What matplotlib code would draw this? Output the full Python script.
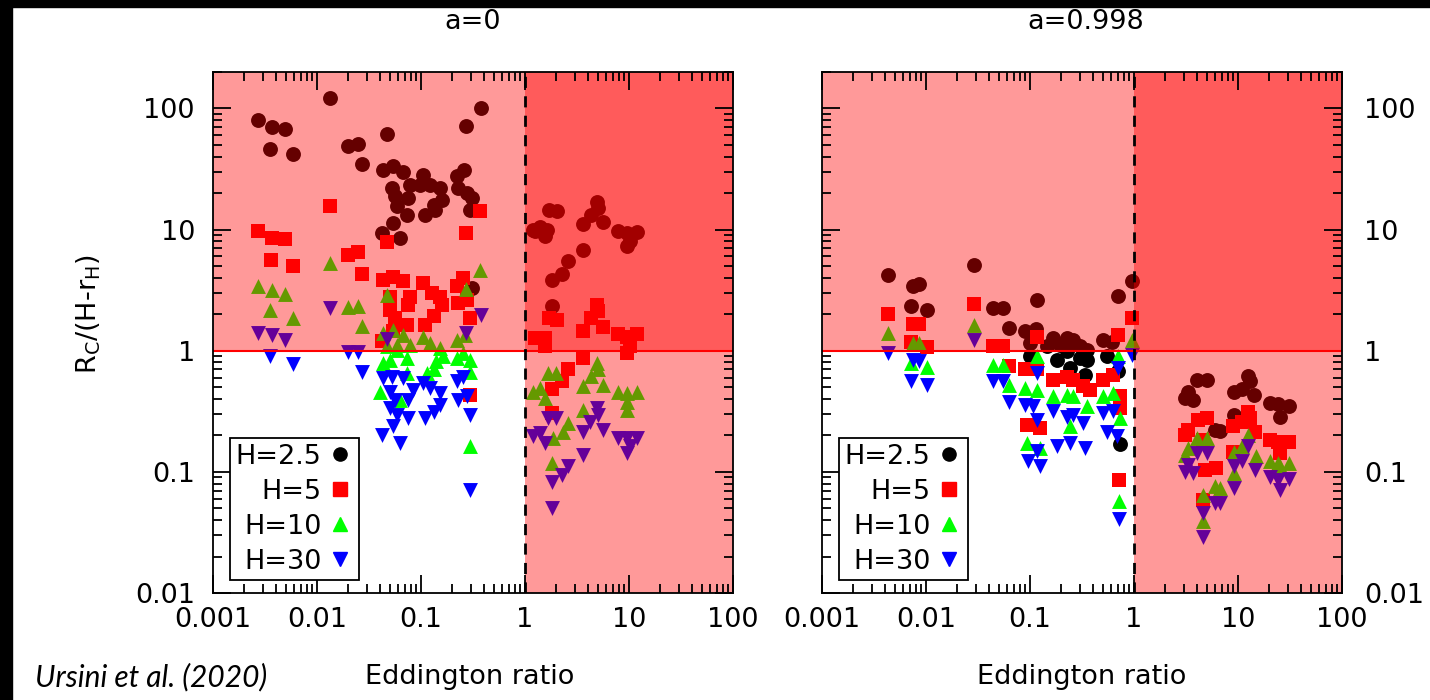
import matplotlib
matplotlib.use('Agg')
import matplotlib.pyplot as plt
from matplotlib.lines import Line2D
from matplotlib.patches import Rectangle
from matplotlib.ticker import FuncFormatter, NullFormatter, LogLocator

plt.rcParams['font.family'] = ['DejaVu Sans']
plt.rcParams['mathtext.default'] = 'regular'

# ---- a = 0 (non-spinning) ----
a0_h25_x = [0.00273, 0.00366, 0.00492, 0.00353, 0.00583, 0.0133, 0.02, 0.0249, 0.0273, 0.0474,
            0.0434, 0.0542, 0.0676, 0.0523, 0.0562, 0.0583, 0.0542, 0.0419, 0.0628, 0.0738,
            0.0755, 0.0784, 0.105, 0.122, 0.0977, 0.152, 0.158, 0.132, 0.136, 0.109,
            0.22, 0.258, 0.228, 0.275, 0.307, 0.296, 0.311, 0.375, 0.269,
            1.2, 1.39, 1.62, 1.56, 1.25, 1.71, 2.01, 1.8, 2.25, 2.57, 1.8,
            3.64, 3.59, 4.29, 4.9, 5.07, 5.59, 7.9, 9.5, 9.5, 10.2, 11.9]
a0_h25_y = [81, 70, 68, 46, 41.7, 122, 49.4, 51, 34.9, 61,
            31.3, 33.4, 29.8, 22.1, 18.8, 15.6, 11.4, 9.4, 8.5, 13.1,
            18.3, 23.5, 28.5, 23.5, 23.5, 22, 17.7, 16.1, 14.6, 13.1,
            27.6, 31.3, 22.1, 20.1, 18.3, 14.6, 3.3, 101, 71,
            10, 10.6, 10, 8.8, 9.7, 14.6, 14.2, 3.86, 4.3, 5.47, 2.35,
            6.84, 11.1, 13.3, 16.8, 15.1, 11.5, 9.8, 9.4, 7.3, 8.0, 9.5]

a0_h5_x = [0.0133, 0.00273, 0.00366, 0.00492, 0.00359, 0.00583, 0.369, 0.271, 0.0474, 0.02,
           0.0249, 0.0273, 0.0434, 0.0542, 0.0676, 0.0503, 0.0503, 0.0562, 0.0728, 0.0755,
           0.0784, 0.105, 0.127, 0.152, 0.158, 0.132, 0.109, 0.22, 0.255, 0.228,
           0.275, 0.296, 0.0419, 0.0542, 0.296,
           1.25, 1.56, 1.56, 1.71, 2.01, 3.64, 2.57, 2.25, 1.8, 1.8,
           3.59, 4.29, 4.9, 5.07, 5.59, 7.9, 9.5, 9.5, 10.2, 11.9]
a0_h5_y = [15.6, 9.7, 8.6, 8.3, 5.65, 4.97, 14.2, 9.3, 7.85, 6.2,
           6.5, 4.3, 3.86, 4.1, 3.8, 2.8, 2.18, 1.86, 1.64, 2.4,
           2.8, 3.63, 3.0, 2.8, 2.4, 1.92, 1.64, 3.4, 4.0, 2.48,
           2.64, 1.86, 1.2, 1.45, 0.432,
           1.27, 1.27, 1.09, 1.86, 1.8, 0.87, 0.706, 0.558, 0.482, 0.305,
           1.45, 1.86, 2.4, 2.11, 1.56, 1.37, 1.31, 0.96, 1.09, 1.38]

a0_h10_x = [0.0133, 0.00273, 0.00366, 0.00492, 0.00353, 0.00583, 0.369, 0.271, 0.0474, 0.02,
            0.0249, 0.0273, 0.0427, 0.0542, 0.0676, 0.105, 0.0784, 0.122, 0.152, 0.22,
            0.262, 0.0583, 0.0466, 0.0503, 0.0728, 0.0434, 0.0583, 0.164, 0.14, 0.132,
            0.22, 0.296, 0.255, 0.114, 0.0728, 0.0404, 0.0628, 0.296, 0.296,
            1.2, 1.39, 1.56, 1.67, 1.99, 1.85, 1.8, 2.3, 2.61, 3.64,
            3.64, 4.29, 4.9, 5.07, 5.59, 7.9, 9.5, 9.5, 9.5, 11.9]
a0_h10_y = [5.3, 3.4, 3.2, 2.96, 2.15, 1.86, 4.67, 3.24, 2.87, 2.3,
            2.32, 1.59, 1.4, 1.49, 1.36, 1.31, 1.12, 1.16, 1.05, 1.23,
            1.36, 1.12, 1.09, 0.84, 0.87, 0.79, 1.02, 0.9, 0.82, 0.70,
            0.87, 0.84, 0.96, 0.65, 0.65, 0.46, 0.39, 0.67, 0.164,
            0.46, 0.49, 0.406, 0.65, 0.66, 0.19, 0.118, 0.215, 0.252, 0.507,
            0.325, 0.614, 0.79, 0.7, 0.524, 0.453, 0.446, 0.38, 0.325, 0.453]

a0_h30_x = [0.00273, 0.00366, 0.00492, 0.0133, 0.375, 0.271, 0.0474, 0.02, 0.0249, 0.00353,
            0.00583, 0.0273, 0.0434, 0.0523, 0.0676, 0.0503, 0.0562, 0.0503, 0.0583, 0.0755,
            0.0755, 0.0838, 0.105, 0.122, 0.152, 0.152, 0.132, 0.109, 0.22, 0.255,
            0.228, 0.275, 0.296, 0.0542, 0.0419, 0.0628, 0.296,
            1.2, 1.39, 1.56, 1.67, 1.99, 1.8, 1.8, 2.25, 2.57, 3.64,
            3.64, 4.2, 4.9, 5.07, 5.59, 7.9, 9.5, 9.5, 10.2, 11.9]
a0_h30_y = [1.4, 1.36, 1.23, 2.25, 1.99, 1.4, 1.25, 0.97, 0.97, 0.9,
            0.776, 0.67, 0.594, 0.61, 0.594, 0.46, 0.39, 0.336, 0.296, 0.277,
            0.39, 0.476, 0.54, 0.49, 0.446, 0.358, 0.315, 0.277, 0.558, 0.61,
            0.39, 0.42, 0.296, 0.237, 0.202, 0.172, 0.071,
            0.196, 0.209, 0.172, 0.277, 0.277, 0.083, 0.05, 0.094, 0.111, 0.215,
            0.138, 0.26, 0.336, 0.296, 0.222, 0.19, 0.19, 0.143, 0.162, 0.19]

# ---- a = 0.998 (maximally spinning) ----
a1_h25_x = [0.00434, 0.00745, 0.00863, 0.00713, 0.0103, 0.029, 0.0444, 0.0553, 0.0628, 0.1175,
            0.0895, 0.114, 0.168, 0.225, 0.261, 0.35, 0.507, 0.61, 0.697, 0.964,
            0.1, 0.145, 0.194, 0.303, 0.1, 0.181, 0.243, 0.303, 0.35, 0.338,
            0.546, 0.706, 0.733, 0.225,
            4.0, 5.0, 3.33, 3.09, 3.72, 6.0, 6.7, 12.6, 12.9, 10.9,
            9.2, 14.3, 9.2, 20.3, 24.4, 31.2, 25.3]
a1_h25_y = [4.25, 3.4, 3.56, 2.32, 2.18, 5.07, 2.25, 2.25, 1.54, 2.6,
            1.45, 1.51, 1.27, 1.27, 1.23, 1.02, 1.23, 1.19, 2.81, 3.74,
            1.16, 1.09, 1.12, 1.09, 0.9, 0.84, 0.72, 0.87, 0.84, 0.634,
            0.9, 0.675, 0.17, 0.99,
            0.575, 0.57, 0.46, 0.406, 0.39, 0.222, 0.217, 0.62, 0.558, 0.48,
            0.453, 0.432, 0.296, 0.37, 0.364, 0.347, 0.286]

a1_h5_x = [0.00434, 0.00745, 0.00863, 0.00713, 0.0103, 0.029, 0.0444, 0.0553, 0.0628, 0.1175,
           0.0895, 0.118, 0.168, 0.225, 0.261, 0.322, 0.38, 0.507, 0.633, 0.697,
           0.964, 0.093, 0.125, 0.733, 0.733, 0.72,
           5.0, 4.15, 3.09, 3.33, 4.6, 4.8, 6.2, 4.6, 12.6, 13.0,
           10.9, 14.6, 9.0, 9.0, 20.3, 24.4, 31.2, 25.3]
a1_h5_y = [2.02, 1.67, 1.67, 1.19, 1.07, 2.43, 1.1, 1.1, 0.75, 1.3,
           0.706, 0.7, 0.575, 0.61, 0.575, 0.507, 0.476, 0.575, 0.634, 1.34,
           1.88, 0.245, 0.23, 0.42, 0.336, 0.086,
           0.277, 0.27, 0.202, 0.222, 0.184, 0.104, 0.107, 0.059, 0.315, 0.277,
           0.26, 0.215, 0.237, 0.147, 0.184, 0.178, 0.178, 0.143]

a1_h10_x = [0.00434, 0.00745, 0.00863, 0.00713, 0.0103, 0.029, 0.0444, 0.0553, 0.0628, 0.1175,
            0.0895, 0.118, 0.168, 0.225, 0.261, 0.35, 0.507, 0.633, 0.697, 0.964,
            0.093, 0.125, 0.243, 0.733, 0.72,
            4.0, 5.0, 3.33, 3.09, 6.0, 6.7, 4.6, 4.6, 12.6, 10.9,
            9.2, 15.0, 9.2, 20.3, 24.4, 31.2, 25.3]
a1_h10_y = [1.4, 1.16, 1.16, 0.79, 0.74, 1.64, 0.766, 0.766, 0.524, 0.9,
            0.49, 0.476, 0.42, 0.432, 0.42, 0.347, 0.42, 0.446, 0.9, 1.23,
            0.172, 0.157, 0.237, 0.277, 0.058,
            0.19, 0.19, 0.157, 0.138, 0.076, 0.074, 0.064, 0.039, 0.202, 0.162,
            0.147, 0.136, 0.098, 0.122, 0.118, 0.118, 0.111]

a1_h30_x = [0.00434, 0.00745, 0.00863, 0.00713, 0.0103, 0.029, 0.0444, 0.0553, 0.0628, 0.1175,
            0.0895, 0.107, 0.118, 0.168, 0.225, 0.261, 0.322, 0.507, 0.633, 0.697,
            0.964, 0.0958, 0.125, 0.181, 0.243, 0.338, 0.118, 0.546, 0.68, 0.72,
            4.0, 5.0, 3.33, 3.09, 3.72, 6.0, 6.7, 4.6, 4.6, 12.6,
            10.9, 9.2, 14.6, 9.2, 20.3, 24.4, 31.2, 25.3]
a1_h30_y = [0.96, 0.84, 0.82, 0.558, 0.517, 1.23, 0.558, 0.558, 0.38, 0.65,
            0.358, 0.347, 0.27, 0.32, 0.286, 0.296, 0.252, 0.306, 0.32, 0.72,
            0.93, 0.122, 0.111, 0.162, 0.172, 0.157, 0.15, 0.215, 0.196, 0.041,
            0.143, 0.143, 0.114, 0.1, 0.098, 0.055, 0.055, 0.046, 0.029, 0.162,
            0.122, 0.111, 0.104, 0.073, 0.091, 0.086, 0.088, 0.071]

H_LABELS = ['H=2.5', 'H=5', 'H=10', 'H=30']
MARKERS = ['o', 's', '^', 'v']
COLORS = ['#000000', '#ff0000', '#00ff00', '#0000ff']
FS = 19.5


def fmt_log(v, pos):
    return '%g' % v


def draw_panel(ax, series):
    for (xs, ys), m, c in zip(series, MARKERS, COLORS):
        ax.scatter(xs, ys, marker=m, s=115, color=c, linewidths=0, zorder=1)

    # translucent red bands sit above the points (tints them)
    ax.axhspan(1, 1e4, color='red', alpha=0.4, lw=0, zorder=1.5)
    ax.axvspan(1, 1e4, color='red', alpha=0.4, lw=0, zorder=1.5)
    ax.axhline(1, color='red', lw=1.5, zorder=2)
    ax.axvline(1, color='black', lw=2, ls=(0, (4, 3)), zorder=2)

    ax.set_xscale('log')
    ax.set_yscale('log')
    ax.set_xlim(0.001, 100)
    ax.set_ylim(0.01, 200)
    for axis in (ax.xaxis, ax.yaxis):
        axis.set_major_locator(LogLocator(base=10, numticks=10))
        axis.set_minor_locator(LogLocator(base=10, subs=range(2, 10), numticks=10))
        axis.set_major_formatter(FuncFormatter(fmt_log))
        axis.set_minor_formatter(NullFormatter())
    ax.tick_params(which='both', direction='in', top=True, right=True, width=1.3,
                   labelsize=FS)
    ax.tick_params(which='major', length=13)
    ax.tick_params(which='minor', length=6.5)
    ax.tick_params(axis='x', pad=10)
    ax.tick_params(axis='y', pad=13)
    for sp in ax.spines.values():
        sp.set_linewidth(1.3)

    handles = [Line2D([], [], marker=m, color=c, ls='none', markersize=9.5)
               for m, c in zip(MARKERS, COLORS)]
    leg = ax.legend(handles, H_LABELS, loc='lower left', bbox_to_anchor=(0.033, 0.025),
                    borderaxespad=0, fontsize=FS, markerfirst=False, fancybox=False,
                    edgecolor='black', framealpha=1, handlelength=1.0, handletextpad=0.2,
                    labelspacing=0.33, borderpad=0.2)
    leg.get_frame().set_linewidth(1.3)
    leg.set_zorder(5)


fig = plt.figure(figsize=(14.3, 7.0), dpi=100)
ax1 = fig.add_axes([213 / 1430, 1 - 593 / 700, 520 / 1430, 521 / 700])
ax2 = fig.add_axes([822 / 1430, 1 - 593 / 700, 520 / 1430, 521 / 700])

draw_panel(ax1, [(a0_h25_x, a0_h25_y), (a0_h5_x, a0_h5_y),
                 (a0_h10_x, a0_h10_y), (a0_h30_x, a0_h30_y)])
draw_panel(ax2, [(a1_h25_x, a1_h25_y), (a1_h5_x, a1_h5_y),
                 (a1_h10_x, a1_h10_y), (a1_h30_x, a1_h30_y)])
ax2.tick_params(axis='y', labelleft=False, labelright=True, pad=16)

fig.text(473 / 1430, 1 - 22 / 700, 'a=0', ha='center', va='center', fontsize=FS)
fig.text(1086 / 1430, 1 - 22 / 700, 'a=0.998', ha='center', va='center', fontsize=FS)
fig.text(470 / 1430, 1 - 677 / 700, 'Eddington ratio', ha='center', va='center', fontsize=FS)
fig.text(1082 / 1430, 1 - 677 / 700, 'Eddington ratio', ha='center', va='center', fontsize=FS)
fig.text(89 / 1430, 1 - 314 / 700, 'R$_{C}$/(H-r$_{H}$)', rotation=90,
         ha='center', va='center', fontsize=FS)
fig.text(35 / 1430, 1 - 677 / 700, 'Ursini et al. (2020)', ha='left', va='center',
         fontsize=21.5, style='italic', family='Lato')

# black strips along the top and left edges
fig.patches.append(Rectangle((0, 1 - 7 / 700), 1, 7 / 700, transform=fig.transFigure,
                             color='black', zorder=10))
fig.patches.append(Rectangle((0, 0), 12 / 1430, 1, transform=fig.transFigure,
                             color='black', zorder=10))

fig.savefig('out.png', dpi=100)
